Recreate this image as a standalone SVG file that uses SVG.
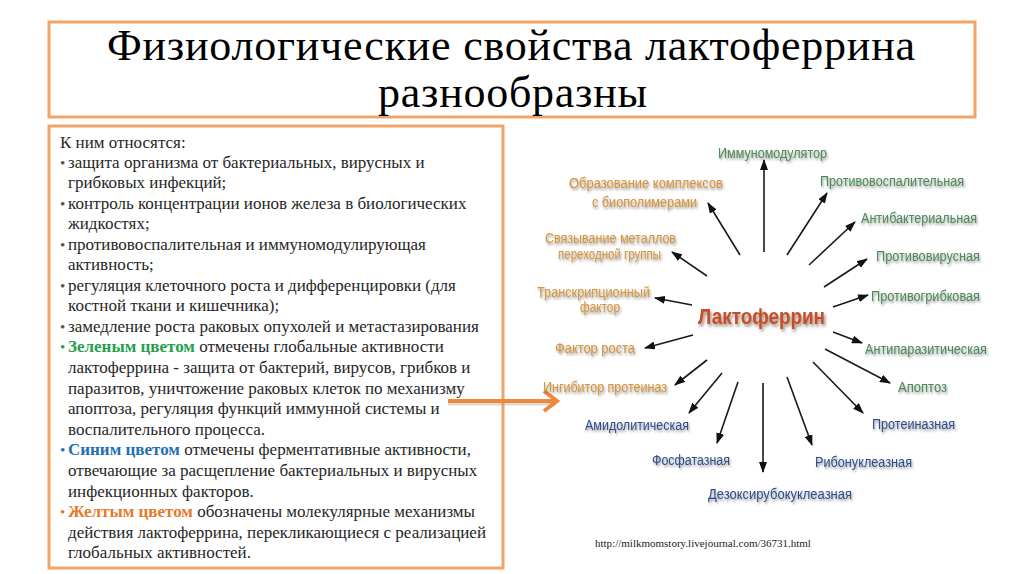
<svg xmlns="http://www.w3.org/2000/svg" width="1024" height="574" viewBox="0 0 1024 574">
<defs>
<style>
.box{fill:#fff;stroke:#F0A467;stroke-width:3}
.title{font-family:"Liberation Serif","Times New Roman",serif;font-size:44px;fill:#000}
.body{font-family:"Liberation Serif","Times New Roman",serif;font-size:17px;fill:#262626}
.bul{font-family:"Liberation Serif","Times New Roman",serif;font-size:15px;fill:#555}
.lbl{font-family:"Liberation Sans",Arial,sans-serif;font-size:14px;filter:url(#sh)}
.g{fill:#4C8A5A}
.b{fill:#2F4E8E}
.y{fill:#D6953A}
.con line{stroke:#1a1a1a;stroke-width:1.6;marker-end:url(#ah)}
.url{font-family:"Liberation Serif","Times New Roman",serif;font-size:11px;fill:#222}
</style>
<marker id="ah" markerUnits="userSpaceOnUse" markerWidth="11" markerHeight="8" refX="10" refY="4" orient="auto">
<path d="M0,0 L11,4 L0,8 z" fill="#111"/>
</marker>
<filter id="sh" x="-10%" y="-30%" width="130%" height="190%">
<feDropShadow dx="1" dy="2" stdDeviation="1.2" flood-color="#444" flood-opacity="0.55"/>
</filter>
<filter id="sh2" x="-10%" y="-30%" width="130%" height="190%">
<feDropShadow dx="1.5" dy="2.5" stdDeviation="1.5" flood-color="#553322" flood-opacity="0.6"/>
</filter>
</defs>
<rect width="1024" height="574" fill="#fff"/>

<g id="title">
<rect class="box" x="49" y="22" width="926" height="95"/>
<text class="title" x="107" y="60" textLength="808" lengthAdjust="spacing">Физиологические свойства лактоферрина</text>
<text class="title" x="378" y="107" textLength="269" lengthAdjust="spacing">разнообразны</text>
</g>

<g id="textbox">
<rect class="box" x="49" y="126" width="454" height="442"/>
<text class="body" x="60" y="148">К ним относятся:</text>
<text class="bul" x="60" y="168">•</text><text class="body" x="68" y="168">защита организма от бактериальных, вирусных и</text>
<text class="body" x="68" y="188">грибковых инфекций;</text>
<text class="bul" x="60" y="209">•</text><text class="body" x="68" y="209">контроль концентрации ионов железа в биологических</text>
<text class="body" x="68" y="229">жидкостях;</text>
<text class="bul" x="60" y="250">•</text><text class="body" x="68" y="250">противовоспалительная и иммуномодулирующая</text>
<text class="body" x="68" y="270">активность;</text>
<text class="bul" x="60" y="291">•</text><text class="body" x="68" y="291">регуляция клеточного роста и дифференцировки (для</text>
<text class="body" x="68" y="311">костной ткани и кишечника);</text>
<text class="bul" x="60" y="332">•</text><text class="body" x="68" y="332">замедление роста раковых опухолей и метастазирования</text>
<text class="bul" x="60" y="352" style="fill:#22A04B">•</text><text class="body" x="68" y="352"><tspan font-weight="bold" style="fill:#22A04B">Зеленым цветом</tspan> отмечены глобальные активности</text>
<text class="body" x="68" y="373">лактоферрина - защита от бактерий, вирусов, грибков и</text>
<text class="body" x="68" y="394">паразитов, уничтожение раковых клеток по механизму</text>
<text class="body" x="68" y="414">апоптоза, регуляция функций иммунной системы и</text>
<text class="body" x="68" y="435">воспалительного процесса.</text>
<text class="bul" x="60" y="455" style="fill:#1F6FB5">•</text><text class="body" x="68" y="455"><tspan font-weight="bold" style="fill:#1F6FB5">Синим цветом</tspan> отмечены ферментативные активности,</text>
<text class="body" x="68" y="476">отвечающие за расщепление бактериальных и вирусных</text>
<text class="body" x="68" y="497">инфекционных факторов.</text>
<text class="bul" x="60" y="517" style="fill:#E57A2A">•</text><text class="body" x="68" y="517"><tspan font-weight="bold" style="fill:#E57A2A">Желтым цветом</tspan> обозначены молекулярные механизмы</text>
<text class="body" x="68" y="538">действия лактоферрина, перекликающиеся с реализацией</text>
<text class="body" x="68" y="558">глобальных активностей.</text>
</g>

<g id="pointer">
<line x1="448" y1="404" x2="556" y2="404" stroke="#999" stroke-width="3" opacity="0.35"/>
<line x1="448" y1="401" x2="556" y2="401" stroke="#F0883A" stroke-width="4"/>
<polyline points="544,391 557,401 544,411" fill="none" stroke="#F0883A" stroke-width="4" stroke-linejoin="miter"/>
</g>

<g id="connectors" class="con">
<line x1="764" y1="252" x2="764" y2="160"/>
<line x1="740" y1="255" x2="708" y2="203"/>
<line x1="707" y1="276" x2="672" y2="252"/>
<line x1="692" y1="305" x2="655" y2="298"/>
<line x1="787" y1="255" x2="827" y2="193"/>
<line x1="809" y1="265" x2="855" y2="222"/>
<line x1="824" y1="287" x2="867" y2="259"/>
<line x1="833" y1="307" x2="868" y2="295"/>
<line x1="693" y1="335" x2="645" y2="348"/>
<line x1="707" y1="360" x2="675" y2="385"/>
<line x1="722" y1="373" x2="689" y2="413"/>
<line x1="738" y1="382" x2="717" y2="443"/>
<line x1="763" y1="383" x2="763" y2="472"/>
<line x1="833" y1="332" x2="862" y2="343"/>
<line x1="825" y1="349" x2="890" y2="383"/>
<line x1="813" y1="362" x2="863" y2="413"/>
<line x1="787" y1="377" x2="812" y2="445"/>
</g>

<g id="center">
<text x="698" y="324" textLength="127" lengthAdjust="spacingAndGlyphs" style="font-family:'Liberation Sans',Arial,sans-serif;font-size:22px;font-weight:bold;fill:#C44E2C;filter:url(#sh2)">Лактоферрин</text>
</g>

<g id="n-immuno"><text class="lbl g" x="718" y="158" textLength="109" lengthAdjust="spacingAndGlyphs">Иммуномодулятор</text></g>
<g id="n-protivovospal"><text class="lbl g" x="820" y="186" textLength="144" lengthAdjust="spacingAndGlyphs">Противовоспалительная</text></g>
<g id="n-antibakt"><text class="lbl g" x="861" y="223" textLength="116" lengthAdjust="spacingAndGlyphs">Антибактериальная</text></g>
<g id="n-protivovir"><text class="lbl g" x="876" y="261" textLength="104" lengthAdjust="spacingAndGlyphs">Противовирусная</text></g>
<g id="n-protivogrib"><text class="lbl g" x="871" y="301" textLength="109" lengthAdjust="spacingAndGlyphs">Противогрибковая</text></g>
<g id="n-antiparazit"><text class="lbl g" x="865" y="354" textLength="122" lengthAdjust="spacingAndGlyphs">Антипаразитическая</text></g>
<g id="n-apoptoz"><text class="lbl g" x="898" y="392" textLength="49" lengthAdjust="spacingAndGlyphs">Апоптоз</text></g>

<g id="n-proteinaz"><text class="lbl b" x="872" y="429" textLength="83" lengthAdjust="spacingAndGlyphs">Протеиназная</text></g>
<g id="n-ribonukl"><text class="lbl b" x="815" y="467" textLength="97" lengthAdjust="spacingAndGlyphs">Рибонуклеазная</text></g>
<g id="n-dezoksi"><text class="lbl b" x="708" y="499" textLength="144" lengthAdjust="spacingAndGlyphs">Дезоксирубокуклеазная</text></g>
<g id="n-fosfat"><text class="lbl b" x="652" y="465" textLength="78" lengthAdjust="spacingAndGlyphs">Фосфатазная</text></g>
<g id="n-amidolit"><text class="lbl b" x="585" y="430" textLength="104" lengthAdjust="spacingAndGlyphs">Амидолитическая</text></g>

<g id="n-ingib"><text class="lbl y" x="543" y="392" textLength="124" lengthAdjust="spacingAndGlyphs">Ингибитор протеиназ</text></g>
<g id="n-faktor-rosta"><text class="lbl y" x="555" y="353" textLength="80" lengthAdjust="spacingAndGlyphs">Фактор роста</text></g>
<g id="n-transkr">
<text class="lbl y" x="537" y="297" textLength="113" lengthAdjust="spacingAndGlyphs">Транскрипционный</text>
<text class="lbl y" x="580" y="312" textLength="40" lengthAdjust="spacingAndGlyphs">фактор</text>
</g>
<g id="n-metall">
<text class="lbl y" x="545" y="243" textLength="131" lengthAdjust="spacingAndGlyphs">Связывание металлов</text>
<text class="lbl y" x="558" y="259" textLength="103" lengthAdjust="spacingAndGlyphs">переходной группы</text>
</g>
<g id="n-kompleks">
<text class="lbl y" x="569" y="188" textLength="154" lengthAdjust="spacingAndGlyphs">Образование комплексов</text>
<text class="lbl y" x="592" y="207" textLength="105" lengthAdjust="spacingAndGlyphs">с биополимерами</text>
</g>

<text class="url" x="595" y="547">http://milkmomstory.livejournal.com/36731.html</text>
</svg>
